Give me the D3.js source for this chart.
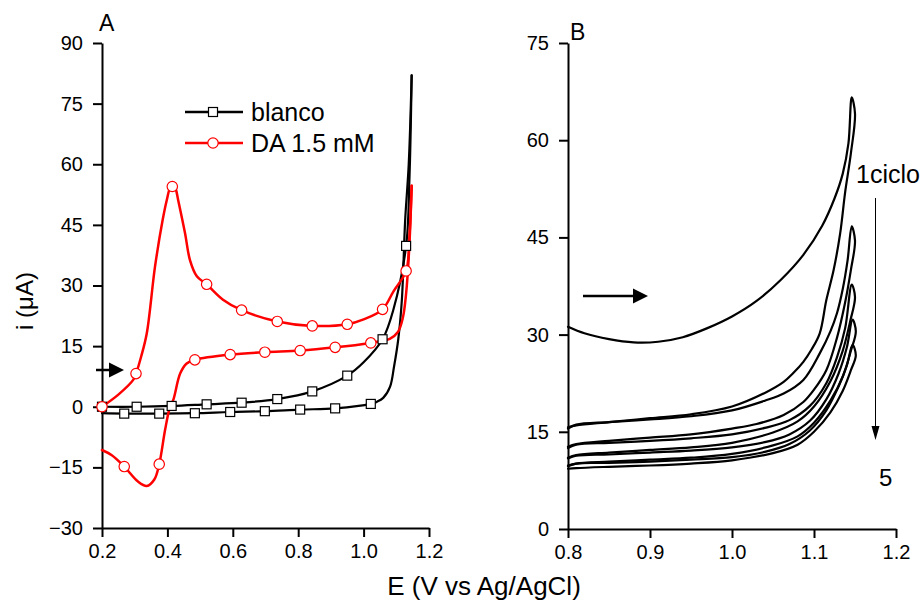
<!DOCTYPE html>
<html lang="es">
<head>
<meta charset="UTF-8">
<title>Voltametría cíclica</title>
<script src="https://cdn.jsdelivr.net/npm/d3@7"></script>
<style>
  body { margin: 0; background: #fff; }
  svg { font-family: "Liberation Sans", Arial, sans-serif; }
  .axis path, .axis line { stroke: #000; stroke-width: 2; }
  .axis text { font-size: 20px; fill: #000; }
  .curve { fill: none; stroke-linejoin: round; stroke-linecap: round; }
</style>
</head>
<body>
<svg id="chart" width="924" height="600"></svg>
<script>
// ---- panel A : blanco (black) and DA 1.5 mM (red), [E, i]
const blancoFwd = [[0.2,0],[0.306,0],[0.413,0.2],[0.52,0.6],[0.627,1.0],[0.736,1.9],[0.843,3.8],
  [0.95,7.7],[1.0,11.0],[1.058,16.7],[1.091,24],[1.13,39.8],[1.14,56],[1.147,82]];
const blancoRev = [[1.147,82],[1.138,60],[1.127,46],[1.117,26.4],[1.106,16.7],[1.093,9.9],[1.081,5.0],
  [1.06,2.2],[1.04,1.2],[1.022,0.7],[0.913,-0.4],[0.806,-0.7],[0.698,-1.1],[0.592,-1.3],[0.484,-1.6],
  [0.375,-1.7],[0.268,-1.7],[0.2,-1.6]];
const blancoMarks = [[0.2,0],[0.306,0],[0.413,0.2],[0.52,0.6],[0.627,1.0],[0.736,1.9],[0.843,3.8],[0.95,7.7],
  [1.058,16.7],[1.13,39.8],[1.022,0.7],[0.913,-0.4],[0.806,-0.7],[0.698,-1.1],[0.592,-1.3],[0.484,-1.6],
  [0.375,-1.7],[0.268,-1.7]];

const daFwd = [[0.2,0],[0.25,3.0],[0.296,6.7],[0.304,8.2],[0.32,12.5],[0.337,18.2],[0.362,34.6],[0.385,46],
  [0.398,51.1],[0.41,54.5],[0.418,54.8],[0.425,54],[0.433,51.1],[0.454,42.9],[0.469,36.3],[0.49,32.3],
  [0.52,30.3],[0.57,26.5],[0.627,23.9],[0.736,21.1],[0.843,20.0],[0.95,20.4],[1.0,21.6],[1.058,24.1],
  [1.091,28.5],[1.13,33.6],[1.14,42],[1.147,54.7]];
const daRev = [[1.147,54.7],[1.14,40],[1.13,28],[1.12,22],[1.105,18.5],[1.08,16.8],[1.05,16.2],[1.022,15.8],
  [0.913,14.7],[0.806,13.9],[0.698,13.5],[0.592,12.9],[0.484,11.6],[0.459,10.7],[0.439,8.2],[0.418,1.7],
  [0.408,0],[0.393,-5.7],[0.375,-14.2],[0.36,-18],[0.337,-19.6],[0.31,-18.5],[0.268,-14.8],[0.23,-12],[0.2,-10.7]];
const daMarks = [[0.2,0],[0.304,8.2],[0.415,54.5],[0.52,30.3],[0.627,23.9],[0.736,21.1],[0.843,20.0],[0.95,20.4],
  [1.058,24.1],[1.13,33.6],[1.022,15.8],[0.913,14.7],[0.806,13.9],[0.698,13.5],[0.592,12.9],[0.484,11.6],
  [0.375,-14.2],[0.268,-14.8]];

// ---- panel B : 5 successive cycles, forward and reverse sweeps
const ciclo1 = [[0.8,31.2],[0.82,30.2],[0.85,29.3],[0.88,28.8],[0.91,28.9],[0.94,29.6],[0.97,31.0],[1.0,32.8],
  [1.03,35.2],[1.06,38.5],[1.087,42.3],[1.11,46.8],[1.125,51.0],[1.135,54.8],[1.142,59.5],[1.146,66.6],
  [1.150,64.1],[1.145,58],[1.138,52],[1.132,45.7],[1.124,40],[1.115,35.3],[1.107,30.2],[1.097,27.7],
  [1.087,25.8],[1.075,24.1],[1.063,22.7],[1.04,21.0],[1.0,18.9],[0.95,17.7],[0.9,17.1],[0.85,16.5],
  [0.81,16.0],[0.8,15.7]];
const ciclo2 = [[0.8,15.5],[0.81,16.1],[0.85,16.5],[0.9,16.9],[0.95,17.4],[1.0,18.3],[1.04,19.8],[1.063,20.9],
  [1.087,23.0],[1.107,27.1],[1.12,30.5],[1.128,33.3],[1.135,37],[1.141,41.5],[1.146,46.7],
  [1.150,44.5],[1.145,40],[1.138,35],[1.128,29.5],[1.115,24.5],[1.1,21.5],[1.087,19.6],[1.063,17.6],
  [1.03,16.2],[1.0,15.5],[0.95,14.6],[0.9,14.1],[0.85,13.6],[0.81,13.1],[0.8,12.7]];
const ciclo3 = [[0.8,12.5],[0.81,13.0],[0.85,13.3],[0.9,13.6],[0.95,14.0],[1.0,14.6],[1.04,15.6],[1.07,16.8],
  [1.095,19.0],[1.115,22.5],[1.128,26.5],[1.138,31],[1.146,37.7],
  [1.150,35.8],[1.144,32],[1.135,27.5],[1.12,22.8],[1.1,18.9],[1.08,16.6],[1.05,14.9],[1.0,13.3],
  [0.95,12.6],[0.9,12.2],[0.85,11.8],[0.81,11.4],[0.8,11.0]];
const ciclo4 = [[0.8,10.9],[0.81,11.3],[0.85,11.5],[0.9,11.8],[0.95,12.1],[1.0,12.6],[1.04,13.4],[1.07,14.6],
  [1.095,16.7],[1.115,20],[1.13,24],[1.14,28],[1.147,32.3],
  [1.151,30.5],[1.145,27.5],[1.135,23.5],[1.12,19.8],[1.1,16.4],[1.08,14.3],[1.05,12.9],[1.0,11.6],
  [0.95,11.0],[0.9,10.7],[0.85,10.4],[0.81,10.1],[0.8,9.8]];
const ciclo5 = [[0.8,9.7],[0.81,10.1],[0.85,10.2],[0.9,10.4],[0.95,10.7],[1.0,11.1],[1.04,11.9],[1.07,13.1],
  [1.095,15.2],[1.115,18.3],[1.13,22],[1.14,25.2],[1.147,28.4],
  [1.151,26.8],[1.145,24.5],[1.135,21.3],[1.12,18],[1.1,15],[1.08,13.0],[1.05,11.7],[1.0,10.6],
  [0.95,10.1],[0.9,9.8],[0.85,9.6],[0.81,9.4],[0.8,9.3]];

const xTicksA = [0.2, 0.4, 0.6, 0.8, 1.0, 1.2];
const yTicksA = [-30, -15, 0, 15, 30, 45, 60, 75, 90];
const xTicksB = [0.8, 0.9, 1.0, 1.1, 1.2];
const yTicksB = [0, 15, 30, 45, 60, 75];
const legendItems = ["blanco", "DA 1.5 mM"];

const svg = d3.select("#chart");

const xA = d3.scaleLinear().domain([0.2, 1.2]).range([102, 429]);
const yA = d3.scaleLinear().domain([-30, 90]).range([528, 43]);
const xB = d3.scaleLinear().domain([0.8, 1.2]).range([568, 896]);
const yB = d3.scaleLinear().domain([0, 75]).range([529, 43]);

function midpoints(t) {
  const m = [];
  for (let k = 0; k < t.length - 1; k++) m.push((t[k] + t[k + 1]) / 2);
  return m;
}

function drawAxes(x, y, xt, yt) {
  const [x0] = x.range();
  const [y0] = y.range();
  const gx = svg.append("g").attr("class", "axis").attr("transform", `translate(0,${y0})`);
  gx.call(d3.axisBottom(x).tickValues(midpoints(xt)).tickSize(5).tickFormat(""));
  gx.call(d3.axisBottom(x).tickValues(xt).tickSize(9).tickPadding(7).tickSizeOuter(0).tickFormat(d3.format(".1f")));
  const gy = svg.append("g").attr("class", "axis").attr("transform", `translate(${x0},0)`);
  gy.call(d3.axisLeft(y).tickValues(midpoints(yt)).tickSize(5).tickFormat(""));
  gy.call(d3.axisLeft(y).tickValues(yt).tickSize(9).tickPadding(10).tickSizeOuter(0).tickFormat(d3.format("d")));
  svg.selectAll(".axis .domain").attr("stroke-width", 2);
}

drawAxes(xA, yA, xTicksA, yTicksA);
drawAxes(xB, yB, xTicksB, yTicksB);

const lineA = d3.line().x(d => xA(d[0])).y(d => yA(d[1])).curve(d3.curveCatmullRom.alpha(0.5));
const lineB = d3.line().x(d => xB(d[0])).y(d => yB(d[1])).curve(d3.curveCatmullRom.alpha(0.5));

// panel A curves
[blancoFwd, blancoRev].forEach(s => svg.append("path").attr("class", "curve")
  .attr("d", lineA(s)).attr("stroke", "#000").attr("stroke-width", 2.2));
[daFwd, daRev].forEach(s => svg.append("path").attr("class", "curve")
  .attr("d", lineA(s)).attr("stroke", "#ff0000").attr("stroke-width", 2.5));

svg.append("g").selectAll("rect").data(blancoMarks).join("rect")
  .attr("x", d => xA(d[0]) - 4.5).attr("y", d => yA(d[1]) - 4.5)
  .attr("width", 9).attr("height", 9)
  .attr("fill", "#fff").attr("stroke", "#000").attr("stroke-width", 1.2);
svg.append("g").selectAll("circle").data(daMarks).join("circle")
  .attr("cx", d => xA(d[0])).attr("cy", d => yA(d[1])).attr("r", 5.2)
  .attr("fill", "#fff").attr("stroke", "#ff0000").attr("stroke-width", 1.2);

// legend
const lg = svg.append("g").attr("transform", "translate(185,112)");
legendItems.forEach((name, k) => {
  const g = lg.append("g").attr("transform", `translate(0,${k * 31})`);
  const col = k === 0 ? "#000" : "#ff0000";
  g.append("line").attr("x1", 0).attr("x2", 58).attr("stroke", col).attr("stroke-width", 2.5);
  if (k === 0) {
    g.append("rect").attr("x", 23.5).attr("y", -4.5).attr("width", 9).attr("height", 9)
      .attr("fill", "#fff").attr("stroke", "#000").attr("stroke-width", 1.2);
  } else {
    g.append("circle").attr("cx", 28).attr("r", 5.2)
      .attr("fill", "#fff").attr("stroke", "#ff0000").attr("stroke-width", 1.2);
  }
  g.append("text").attr("x", 66).attr("y", 8.5).attr("font-size", 25).text(name);
});

// panel B curves
[ciclo1, ciclo2, ciclo3, ciclo4, ciclo5].forEach(s => svg.append("path").attr("class", "curve")
  .attr("d", lineB(s)).attr("stroke", "#000").attr("stroke-width", 2.2));

// scan direction arrows
function arrow(xs, xe, yv, head) {
  svg.append("line").attr("x1", xs).attr("x2", xe - head).attr("y1", yv).attr("y2", yv)
    .attr("stroke", "#000").attr("stroke-width", 2.5);
  svg.append("path").attr("d", `M${xe - head},${yv - 7.5}L${xe},${yv}L${xe - head},${yv + 7.5}Z`).attr("fill", "#000");
}
arrow(96, 124, 370, 15);
arrow(583, 648, 296, 15);

// cycle arrow
svg.append("line").attr("x1", 875.5).attr("x2", 875.5).attr("y1", 198).attr("y2", 430)
  .attr("stroke", "#000").attr("stroke-width", 1);
svg.append("path").attr("d", "M871.5,426L875.5,440L879.5,426Z").attr("fill", "#000");
svg.append("text").attr("x", 856).attr("y", 183).attr("font-size", 25).text("1ciclo");
svg.append("text").attr("x", 879).attr("y", 486).attr("font-size", 24).text("5");

// labels
svg.append("text").attr("x", 99).attr("y", 31).attr("font-size", 23).text("A");
svg.append("text").attr("x", 570).attr("y", 40).attr("font-size", 23).text("B");
svg.append("text").attr("x", 484).attr("y", 595).attr("text-anchor", "middle")
  .attr("font-size", 26).text("E (V vs Ag/AgCl)");
svg.append("text").attr("transform", "translate(33,301) rotate(-90)").attr("text-anchor", "middle")
  .attr("font-size", 24).text("i (μA)");
</script>
</body>
</html>
